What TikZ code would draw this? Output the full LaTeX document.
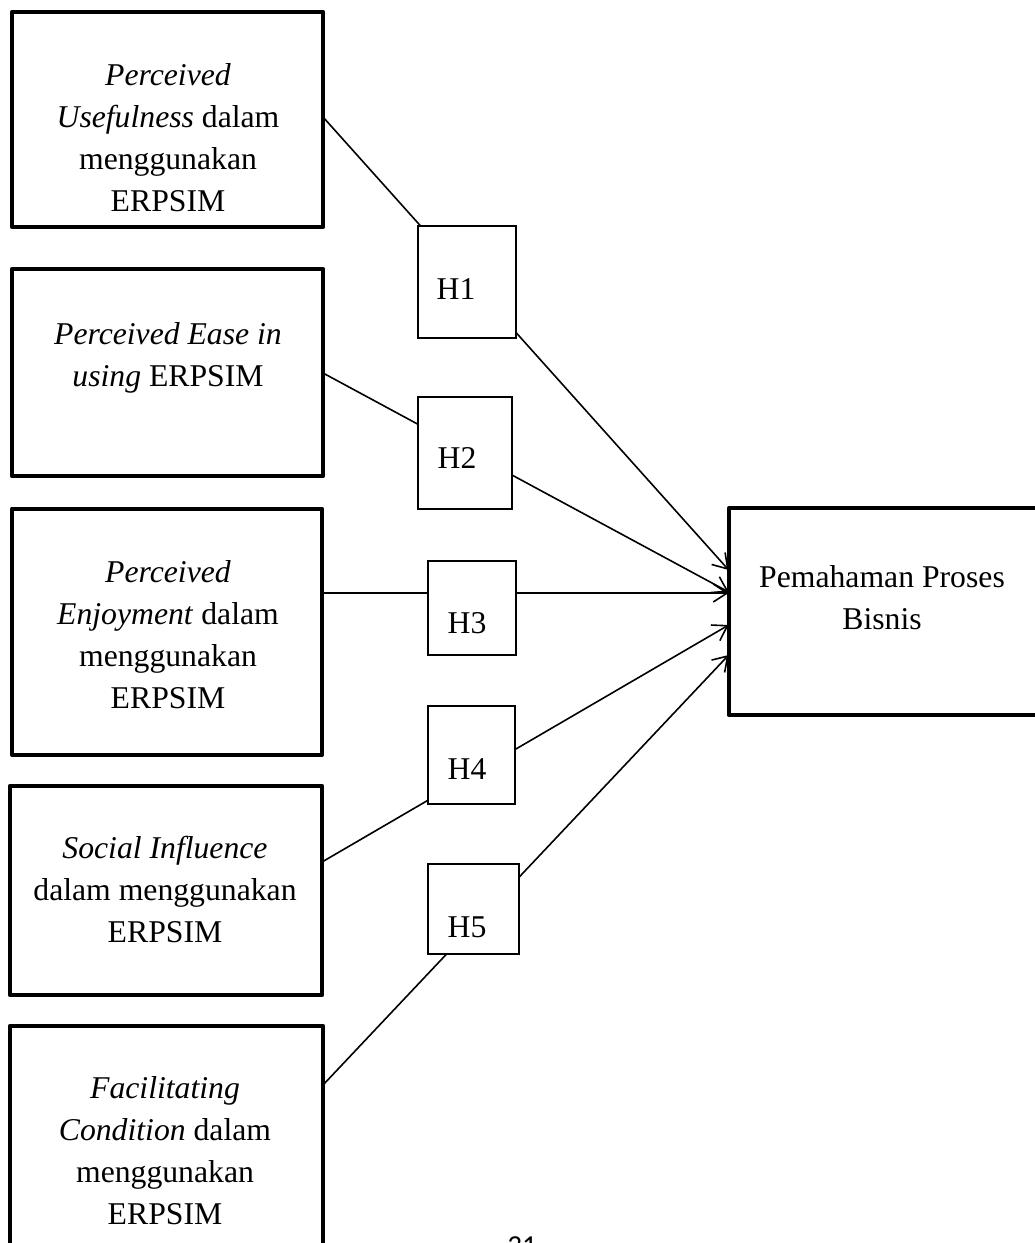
\documentclass[tikz,border=0pt]{standalone}
\usepackage{fontspec}
\setmainfont{Liberation Serif}
\newfontfamily\pgnumfont{Carlito}
\usetikzlibrary{arrows.meta}
\begin{document}
\begin{tikzpicture}[x=1pt,y=-1pt,
  bigbox/.style={draw, line width=4.2pt, line join=round, rectangle, inner sep=0pt, outer sep=0pt},
  hbox/.style={draw, fill=white, line width=1.3pt, rectangle, inner sep=0pt, outer sep=0pt},
  txt/.style={font=\fontsize{31.7}{42}\selectfont, align=center, inner sep=0pt},
  conn/.style={line width=1.6pt, -{Straight Barb[length=14pt,width=18pt]}}
  ]
\useasboundingbox (0,0) rectangle (1035,1243);
\clip (0,0) rectangle (1035,1243);

% source boxes
\node[bigbox, minimum width=311pt, minimum height=215pt] (b1) at (167.5,119.5) {};
\node[bigbox, minimum width=311pt, minimum height=207pt] (b2) at (167.5,372.5) {};
\node[bigbox, minimum width=310pt, minimum height=246pt] (b3) at (167,631.7) {};
\node[bigbox, minimum width=312pt, minimum height=209pt] (b4) at (166,890.5) {};
\node[bigbox, minimum width=313pt, minimum height=274pt] (b5) at (166.5,1163) {};
% target box
\node[bigbox, minimum width=331.3pt, minimum height=206.7pt] (tgt) at (894.35,611.65) {};

% texts (anchor north = first baseline - strut height 29.4)
\node[txt, anchor=north] (b1t) at (168,55.6) {\strut\textit{Perceived}\\\textit{Usefulness} dalam\\menggunakan\\ERPSIM};
\node[txt, anchor=north] (b2t) at (168,314.6) {\strut\textit{Perceived Ease in}\\\textit{using} ERPSIM};
\node[txt, anchor=north] (b3t) at (168,552.6) {\strut\textit{Perceived}\\\textit{Enjoyment} dalam\\menggunakan\\ERPSIM};
\node[txt, anchor=north] (b4t) at (165,828.6) {\strut\textit{Social Influence}\\dalam menggunakan\\ERPSIM};
\node[txt, anchor=north] (b5t) at (165,1068.6) {\strut\textit{Facilitating}\\\textit{Condition} dalam\\menggunakan\\ERPSIM};
\node[txt, anchor=north] (tgtt) at (882,557.6) {\strut Pemahaman Proses\\Bisnis};

% connector end points
\coordinate (s1) at ([yshift=2.5pt]b1.east);
\coordinate (s2) at ([yshift=-0.5pt]b2.east);
\coordinate (s3) at ([yshift=38.7pt]b3.east);
\coordinate (s4) at ([yshift=28.5pt]b4.east);
\coordinate (s5) at ([yshift=78pt]b5.east);
\coordinate (t1) at ([yshift=41.65pt]tgt.west);
\coordinate (t2) at ([yshift=19.65pt]tgt.west);
\coordinate (t3) at ([yshift=18.65pt]tgt.west);
\coordinate (t4) at ([yshift=-13.35pt]tgt.west);
\coordinate (t5) at ([yshift=-43.35pt]tgt.west);

\draw[conn] (s1) -- (t1);
\draw[conn] (s2) -- (t2);
\draw[conn] (s3) -- (t3);
\draw[conn] (s4) -- (t4);
\draw[conn] (s5) -- (t5);

% hypothesis boxes
\node[hbox, minimum width=98pt, minimum height=112pt] (h1) at (467,282) {};
\node[hbox, minimum width=94pt, minimum height=112pt] (h2) at (465,453) {};
\node[hbox, minimum width=88pt, minimum height=94pt] (h3) at (472,608) {};
\node[hbox, minimum width=87pt, minimum height=98pt] (h4) at (471.5,755) {};
\node[hbox, minimum width=91pt, minimum height=90pt] (h5) at (473.5,909) {};
\node[txt, anchor=base] (h1t) at (456,299) {H1};
\node[txt, anchor=base] (h2t) at (457,468) {H2};
\node[txt, anchor=base] (h3t) at (467,633) {H3};
\node[txt, anchor=base] (h4t) at (467,779) {H4};
\node[txt, anchor=base] (h5t) at (467,937) {H5};

% page number (cut off, as in the reference)
\node[font=\pgnumfont\fontsize{29}{34}\selectfont, anchor=base, inner sep=0pt] (pg) at (522,1255) {31};
\end{tikzpicture}
\end{document}
